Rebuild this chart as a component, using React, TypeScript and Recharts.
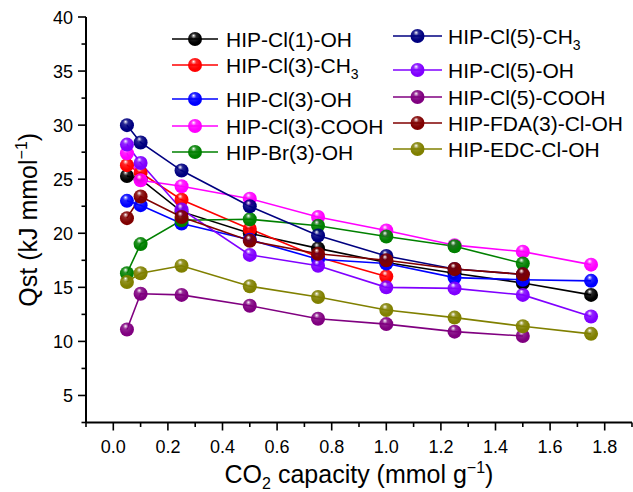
import { LineChart, Line, XAxis, YAxis } from 'recharts';

// CO2 loading points (mmol/g)
const xs = [0.05, 0.1, 0.25, 0.5, 0.75, 1.0, 1.25, 1.5, 1.75];

// Qst values (kJ/mmol) per sample
const cl1OH = [25.3, 25.0, 22.0, 20.0, 18.6, 17.3, 16.3, 15.4, 14.3];
const cl3CH3 = [26.3, 25.6, 23.1, 20.4, 17.8, 16.0];
const cl3OH = [23.0, 22.6, 20.9, 19.4, 17.6, 17.2, 15.9, 15.7, 15.6];
const cl3COOH = [27.4, 24.9, 24.35, 23.2, 21.5, 20.25, 18.9, 18.3, 17.1];
const br3OH = [16.3, 19.0, 21.2, 21.3, 20.7, 19.7, 18.8, 17.2];
const cl5CH3 = [30.0, 28.4, 25.8, 22.5, 19.8, 17.9, 16.7, 16.2];
const cl5OH = [28.2, 26.5, 22.2, 18.0, 17.0, 15.0, 14.9, 14.3, 12.3];
const cl5COOH = [11.1, 14.4, 14.3, 13.3, 12.1, 11.6, 10.9, 10.5];
const fda3 = [21.4, 23.4, 21.5, 19.3, 18.1, 17.5, 16.7, 16.2];
const edc = [15.5, 16.3, 17.0, 15.1, 14.1, 12.9, 12.2, 11.4, 10.7];

const xMajor = [0, 0.2, 0.4, 0.6, 0.8, 1.0, 1.2, 1.4, 1.6, 1.8];
const xLabels = ['0.0', '0.2', '0.4', '0.6', '0.8', '1.0', '1.2', '1.4', '1.6', '1.8'];
const xTicks = [-0.1, 0, 0.1, 0.2, 0.3, 0.4, 0.5, 0.6, 0.7, 0.8, 0.9, 1.0, 1.1, 1.2, 1.3, 1.4, 1.5, 1.6, 1.7, 1.8, 1.9];
const yMajor = [5, 10, 15, 20, 25, 30, 35, 40];
const yTicks = [2.5, 5, 7.5, 10, 12.5, 15, 17.5, 20, 22.5, 25, 27.5, 30, 32.5, 35, 37.5, 40];

const series = [
  { key: 'cl1OH', name: 'HIP-Cl(1)-OH', sub: '', color: '#000000', values: cl1OH },
  { key: 'cl3CH3', name: 'HIP-Cl(3)-CH', sub: '3', color: '#ff0000', values: cl3CH3 },
  { key: 'cl3OH', name: 'HIP-Cl(3)-OH', sub: '', color: '#0000ff', values: cl3OH },
  { key: 'cl3COOH', name: 'HIP-Cl(3)-COOH', sub: '', color: '#ff00ff', values: cl3COOH },
  { key: 'br3OH', name: 'HIP-Br(3)-OH', sub: '', color: '#008000', values: br3OH },
  { key: 'cl5CH3', name: 'HIP-Cl(5)-CH', sub: '3', color: '#000080', values: cl5CH3 },
  { key: 'cl5OH', name: 'HIP-Cl(5)-OH', sub: '', color: '#8000ff', values: cl5OH },
  { key: 'cl5COOH', name: 'HIP-Cl(5)-COOH', sub: '', color: '#800080', values: cl5COOH },
  { key: 'fda3', name: 'HIP-FDA(3)-Cl-OH', sub: '', color: '#800000', values: fda3 },
  { key: 'edc', name: 'HIP-EDC-Cl-OH', sub: '', color: '#808000', values: edc },
];

const data = xs.map((x, i) => {
  const row: Record<string, number | undefined> = { x };
  series.forEach((s) => {
    row[s.key] = s.values[i];
  });
  return row;
});

const FONT = "Arial, 'Liberation Sans', sans-serif";
const R = 7;

function gradients(prefix: string) {
  return series.map((s) => (
    <radialGradient key={s.key} id={`${prefix}-${s.key}`} cx="0.42" cy="0.38" r="0.62" fx="0.4" fy="0.25">
      <stop offset="0" stopColor="#ffffff" />
      <stop offset="0.3" stopColor={s.color} stopOpacity={0.85} />
      <stop offset="0.75" stopColor={s.color} />
      <stop offset="1" stopColor={s.color} />
    </radialGradient>
  ));
}

function XTick(props: any) {
  const { x, y, payload } = props;
  const idx = xMajor.findIndex((m) => Math.abs(m - payload.value) < 1e-6);
  const major = idx >= 0;
  return (
    <g>
      <line x1={x} x2={x} y1={y} y2={y + (major ? 8 : 4.5)} stroke="#000" strokeWidth={1.6} />
      {major && (
        <text x={x} y={y + 30} textAnchor="middle" fontSize={18} fontFamily={FONT} fill="#000">
          {xLabels[idx]}
        </text>
      )}
    </g>
  );
}

function YTick(props: any) {
  const { x, y, payload } = props;
  const major = yMajor.some((m) => Math.abs(m - payload.value) < 1e-6);
  return (
    <g>
      <line x1={x} x2={x - (major ? 8 : 4.5)} y1={y} y2={y} stroke="#000" strokeWidth={1.6} />
      {major && (
        <text x={x - 13} y={y + 6.5} textAnchor="end" fontSize={18} fontFamily={FONT} fill="#000">
          {payload.value}
        </text>
      )}
    </g>
  );
}

function XTitle(props: any) {
  const { viewBox } = props;
  const cx = viewBox.x + viewBox.width / 2;
  return (
    <text x={cx} y={483} textAnchor="middle" fontSize={25} fontFamily={FONT} fill="#000">
      CO
      <tspan dy={6} fontSize={16}>2</tspan>
      <tspan dy={-6}> capacity (mmol g</tspan>
      <tspan dy={-10} fontSize={16}>−1</tspan>
      <tspan dy={10}>)</tspan>
    </text>
  );
}

function YTitle(props: any) {
  const { viewBox } = props;
  const cy = viewBox.y + viewBox.height / 2;
  const cx = 37;
  return (
    <text
      x={cx}
      y={cy}
      transform={`rotate(-90, ${cx}, ${cy})`}
      textAnchor="middle"
      fontSize={25}
      fontFamily={FONT}
      fill="#000"
    >
      Qst (kJ mmol
      <tspan dy={-10} fontSize={16}>−1</tspan>
      <tspan dy={10}>)</tspan>
    </text>
  );
}

const leftRows = [39, 65, 99, 126, 152];
const rightRows = [36, 70, 97, 123, 149];

function LegendBox() {
  const cols = [
    { items: series.slice(0, 5), rows: leftRows, x1: 172, x2: 218, tx: 226 },
    { items: series.slice(5), rows: rightRows, x1: 393, x2: 442, tx: 448 },
  ];
  return (
    <svg width={633} height={180} style={{ position: 'absolute', left: 0, top: 0 }}>
      <defs>{gradients('lg')}</defs>
      {cols.map((c) =>
        c.items.map((s, i) => {
          const y = c.rows[i];
          const mx = (c.x1 + c.x2) / 2;
          return (
            <g key={s.key}>
              <line x1={c.x1} x2={c.x2} y1={y} y2={y} stroke={s.color} strokeWidth={1.6} />
              <circle cx={mx} cy={y} r={R} fill={`url(#lg-${s.key})`} />
              <text x={c.tx} y={y + 7.5} fontSize={21} fontFamily={FONT} fill="#000">
                {s.name}
                {s.sub && (
                  <tspan dy={6} fontSize={14}>
                    {s.sub}
                  </tspan>
                )}
              </text>
            </g>
          );
        })
      )}
    </svg>
  );
}

export default function App() {
  return (
    <div style={{ position: 'absolute', left: 0, top: 0, width: 633, height: 492, background: '#fff' }}>
      <LineChart width={633} height={492} data={data} margin={{ top: 17, right: 1, left: 0, bottom: 0 }}>
        <defs>{gradients('ball')}</defs>
        <XAxis
          dataKey="x"
          type="number"
          domain={[-0.1, 1.9]}
          ticks={xTicks}
          interval={0}
          tickSize={0}
          tickMargin={0}
          tickLine={false}
          tick={<XTick />}
          height={69.5}
          axisLine={{ stroke: '#000', strokeWidth: 2 }}
          label={<XTitle />}
        />
        <XAxis
          xAxisId="top"
          orientation="top"
          type="number"
          domain={[-0.1, 1.9]}
          height={0}
          tick={false}
          tickLine={false}
          axisLine={{ stroke: '#000', strokeWidth: 1.5 }}
        />
        <YAxis
          type="number"
          domain={[2.5, 40]}
          ticks={yTicks}
          interval={0}
          width={86}
          tickSize={0}
          tickMargin={0}
          tickLine={false}
          tick={<YTick />}
          axisLine={{ stroke: '#000', strokeWidth: 2 }}
          label={<YTitle />}
        />
        <YAxis
          yAxisId="right"
          orientation="right"
          type="number"
          domain={[2.5, 40]}
          width={0}
          tick={false}
          tickLine={false}
          axisLine={{ stroke: '#000', strokeWidth: 1.2 }}
        />
        {series.map((s) => (
          <Line
            key={s.key}
            dataKey={s.key}
            name={s.name}
            stroke={s.color}
            strokeWidth={1.6}
            isAnimationActive={false}
            dot={(p: any) =>
              p.cy == null || p.value == null ? (
                <g key={`${s.key}-${p.index}`} />
              ) : (
                <circle key={`${s.key}-${p.index}`} cx={p.cx} cy={p.cy} r={R} fill={`url(#ball-${s.key})`} />
              )
            }
            activeDot={false}
          />
        ))}
      </LineChart>
      <LegendBox />
    </div>
  );
}
